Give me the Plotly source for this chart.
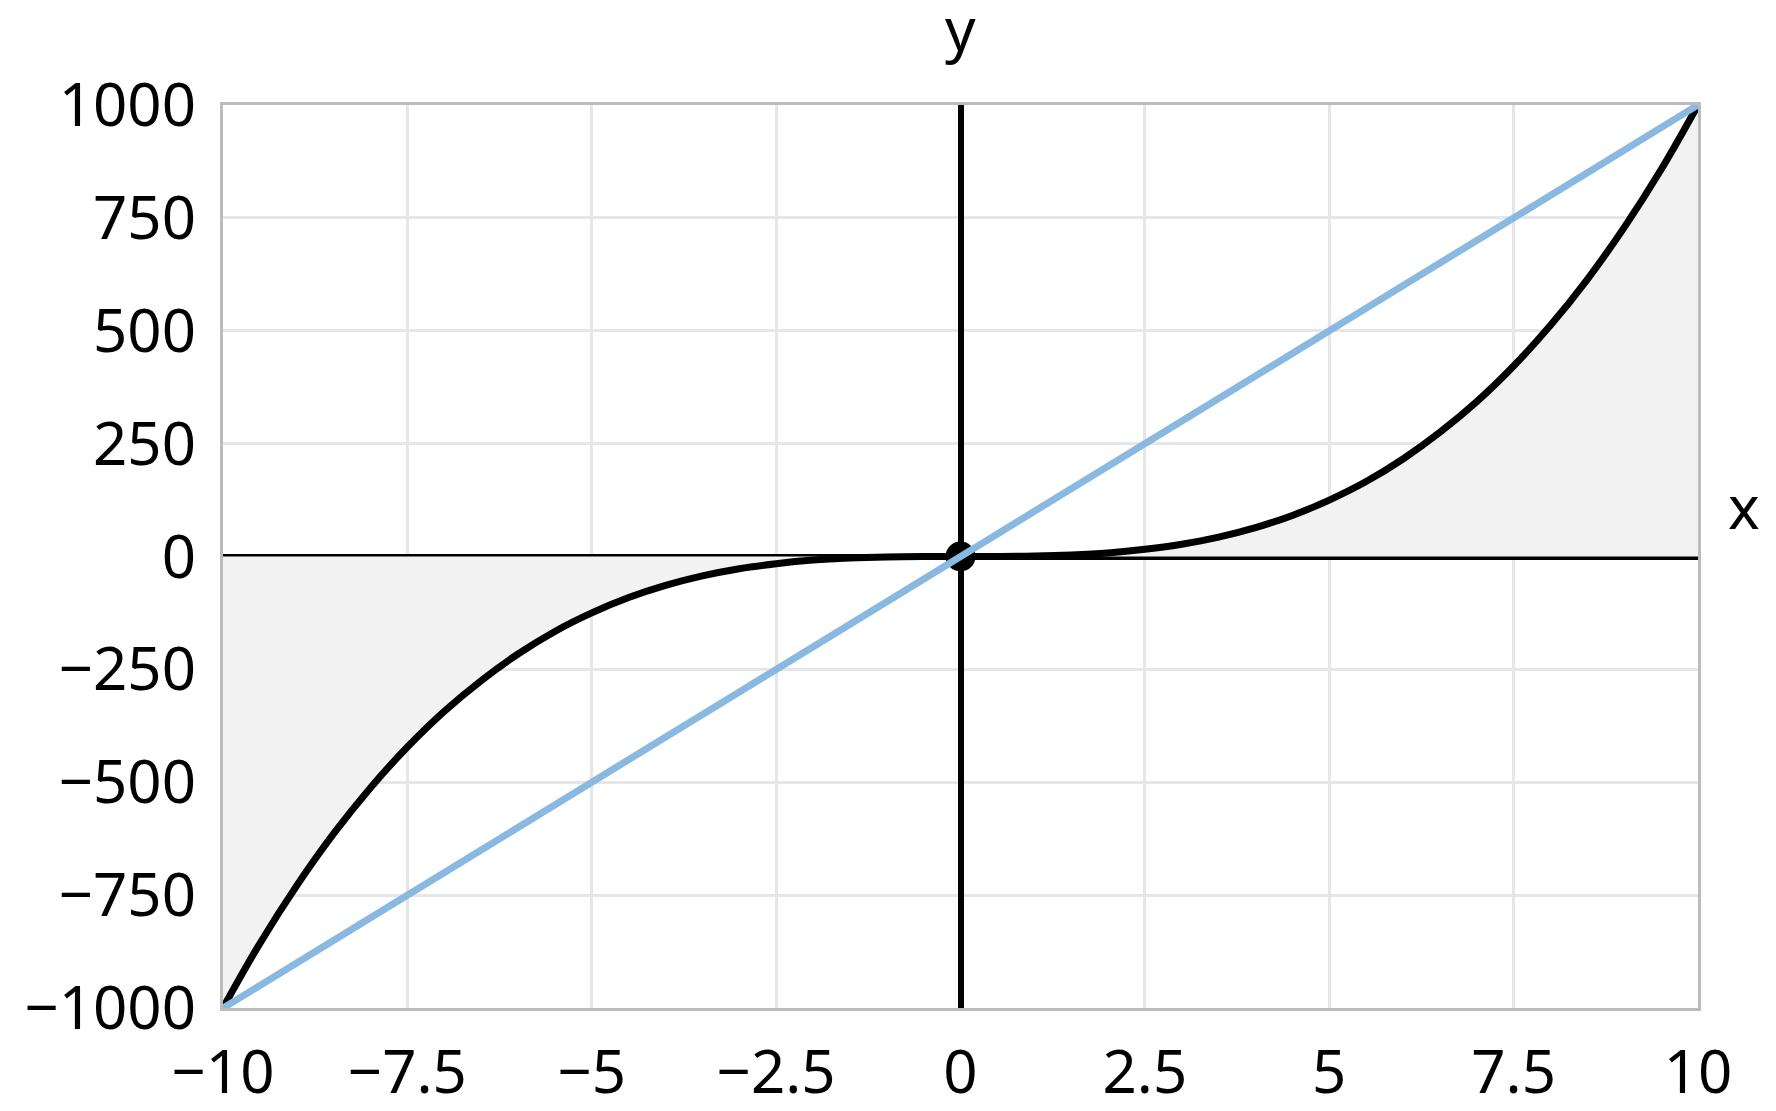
import plotly.graph_objects as go

# cubic curve
curve_x = [-10, -9.5, -9, -8.5, -8, -7.5, -7, -6.5, -6, -5.5, -5, -4.5, -4, -3.5, -3,
           -2.5, -2, -1.5, -1, -0.5, 0, 0.5, 1, 1.5, 2, 2.5, 3, 3.5, 4, 4.5, 5,
           5.5, 6, 6.5, 7, 7.5, 8, 8.5, 9, 9.5, 10]
curve_y = [-1000, -857, -729, -614, -512, -422, -343, -275, -216, -166, -125, -91, -64,
           -43, -27, -16, -8, -3.4, -1, -0.1, 0, 0.1, 1, 3.4, 8, 16, 27, 43, 64, 91,
           125, 166, 216, 275, 343, 422, 512, 614, 729, 857, 1000]

line_x = [-10, 10]
line_y = [-1000, 1000]

origin_x = [0]
origin_y = [0]

x_ticks = [-10, -7.5, -5, -2.5, 0, 2.5, 5, 7.5, 10]
y_ticks = [-1000, -750, -500, -250, 0, 250, 500, 750, 1000]

FONT = "Noto Sans, Open Sans, sans-serif"
SIZE = 60

fig = go.Figure()
fig.add_trace(
    go.Scatter(
        x=curve_x, y=curve_y, mode="lines", fill="tozeroy",
        fillcolor="#f2f2f2", line={"color": "black", "width": 7, "shape": "spline"},
        showlegend=False,
    )
)
fig.add_trace(
    go.Scatter(
        x=origin_x, y=origin_y, mode="markers",
        marker={"color": "black", "size": 30}, showlegend=False,
    )
)
fig.add_trace(
    go.Scatter(
        x=line_x, y=line_y, mode="lines",
        line={"color": "#89b8e0", "width": 7}, showlegend=False,
    )
)

axis_common = dict(
    showgrid=True, gridcolor="#e6e6e6", gridwidth=3,
    zeroline=True, zerolinecolor="black", zerolinewidth=6,
    showline=True, linecolor="#bcbcbc", linewidth=3, mirror=True,
    ticks="", automargin=False,
    tickfont={"size": SIZE, "color": "black", "family": FONT},
)
fig.update_xaxes(range=[-10, 10], tickvals=x_ticks, ticklabelstandoff=10, **axis_common)
fig.update_yaxes(range=[-1000, 1000], tickvals=y_ticks, ticklabelstandoff=12, **axis_common)

fig.add_annotation(x=0, y=1, xref="x", yref="paper", xanchor="center", yanchor="middle",
                   yshift=77, text="y", showarrow=False,
                   font={"size": SIZE, "color": "black", "family": FONT})
fig.add_annotation(x=1, y=0, xref="paper", yref="y", xanchor="center", yanchor="middle",
                   xshift=46, yshift=51, text="x", showarrow=False,
                   font={"size": SIZE, "color": "black", "family": FONT})

fig.update_layout(
    width=1768, height=1103,
    paper_bgcolor="white", plot_bgcolor="white",
    margin={"l": 215, "r": 78, "t": 97, "b": 103},
    font={"family": FONT, "color": "black"},
)
fig.write_html("out.html")
